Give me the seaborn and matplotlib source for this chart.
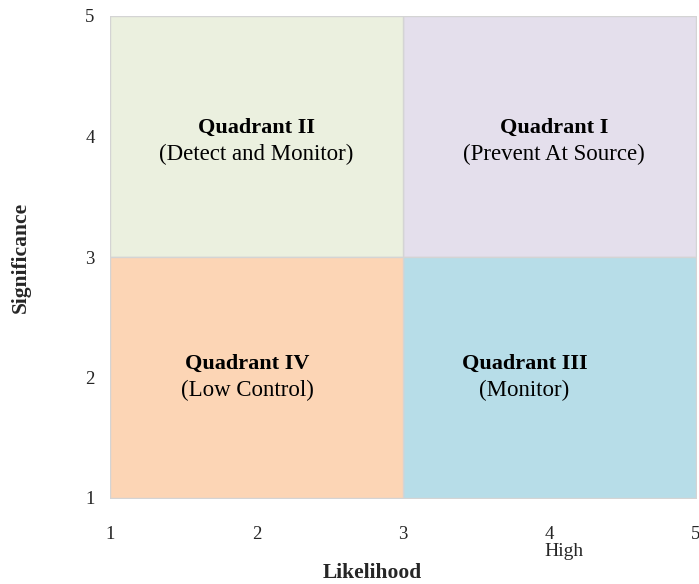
import matplotlib
matplotlib.use("Agg")
import matplotlib.pyplot as plt
import seaborn as sns
import pandas as pd

# Quadrant definitions (likelihood range, significance range)
quadrants = ["Quadrant I", "Quadrant II", "Quadrant III", "Quadrant IV"]
actions = ["(Prevent At Source)", "(Detect and Monitor)", "(Monitor)", "(Low Control)"]
x_start = [3, 1, 3, 1]
x_end = [5, 3, 5, 3]
y_start = [3, 3, 1, 1]
y_end = [5, 5, 3, 3]
fill_colors = ["#E4DFEC", "#EBF0DF", "#B7DDE8", "#FCD5B5"]

# Where each quadrant's caption sits
label_x = [4.03, 2.0, 3.83, 1.94]
label_y = [3.96, 3.96, 2.0, 2.0]

tick_values = [1, 2, 3, 4, 5]
tick_labels = ["1", "2", "3", "4", "5"]

df = pd.DataFrame({
    "quadrant": quadrants, "action": actions,
    "x0": x_start, "x1": x_end, "y0": y_start, "y1": y_end,
    "color": fill_colors, "lx": label_x, "ly": label_y,
})

sns.set_theme(style="white")
plt.rcParams["font.family"] = ["Liberation Serif", "DejaVu Serif"]

fig = plt.figure(figsize=(6.99, 5.84), dpi=100)
ax = fig.add_axes([110 / 699, 1 - 498 / 584, (696 - 110) / 699, (498 - 16) / 584])

for _, r in df.iterrows():
    ax.fill_between([r.x0, r.x1], r.y0, r.y1, color=r.color,
                    edgecolor="#D4D4D4", linewidth=1.0, zorder=1)
    ax.text(r.lx, r.ly + 0.11, r.quadrant, ha="center", va="center",
            fontsize=16, fontweight="bold", color="black", zorder=3)
    ax.text(r.lx, r.ly - 0.11, r.action, ha="center", va="center",
            fontsize=16.5, color="black", zorder=3)

ax.set_xlim(1, 5)
ax.set_ylim(1, 5)
ax.set_xticks(tick_values)
ax.set_xticklabels(tick_labels, fontsize=13.5)
ax.set_yticks(tick_values)
ax.set_yticklabels(tick_labels, fontsize=13.5)
ax.tick_params(axis="x", direction="out", length=4, width=0.8, color="#9A9A9A", pad=16)
ax.tick_params(axis="y", direction="out", length=4, width=0.8, color="#9A9A9A", pad=7)
for s in ax.spines.values():
    s.set_visible(False)

ax.text(4.1, -0.112, "High", transform=ax.get_xaxis_transform(),
        ha="center", va="center", fontsize=14)

ax.set_xlabel("Likelihood", fontsize=15.5, fontweight="bold")
ax.xaxis.set_label_coords(0.447, -0.135)
ax.set_ylabel("Significance", fontsize=15.5, fontweight="bold")
ax.yaxis.set_label_coords(-0.135, 0.5)

fig.savefig("out.png", dpi=100)
